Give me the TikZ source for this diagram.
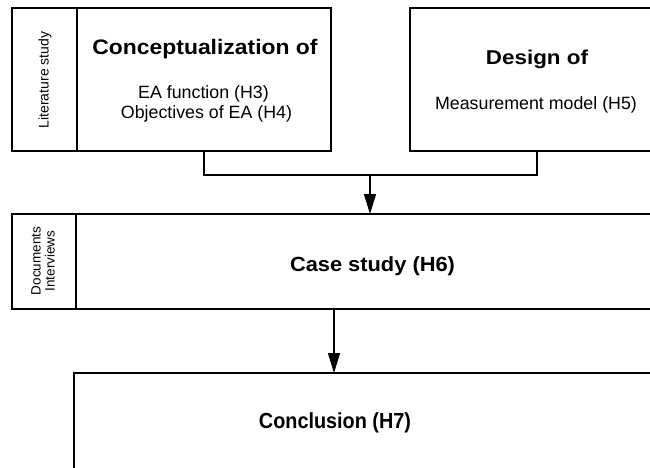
\documentclass[tikz,border=0pt]{standalone}
\usepackage{fontspec}
\setmainfont{Liberation Sans}
\usetikzlibrary{arrows.meta}
\begin{document}
\begin{tikzpicture}[x=1pt,y=-1pt,
  frame/.style={draw, line width=1.2pt, inner sep=0pt, outer sep=0pt},
  txt/.style={inner sep=0pt, anchor=base},
  head/.style={txt, font=\bfseries\fontsize{21}{24}\selectfont},
  body/.style={txt, font=\fontsize{17.8}{21}\selectfont},
  side/.style={inner sep=0pt, rotate=90, align=center, font=\fontsize{13.5}{14}\selectfont},
  link/.style={line width=1.2pt},
  arrow/.style={link, -{Triangle[length=20pt,width=12pt]}}]
\useasboundingbox (0,0) rectangle (650,468);
\clip (0,0) rectangle (650,468);

% boxes
\node[frame, minimum width=65pt, minimum height=143pt] (lit) at (44.5,79.5) {};
\node[frame, minimum width=254pt, minimum height=143pt] (concept) at (204,79.5) {};
\node[frame, minimum width=254pt, minimum height=143pt] (design) at (537,79.5) {};
\node[frame, minimum width=64pt, minimum height=95pt] (docs) at (44,261.5) {};
\node[frame, minimum width=584pt, minimum height=95pt] (case) at (368,261.5) {};
\node[frame, minimum width=590pt, minimum height=110pt] (concl) at (369,428) {};

% side labels
\node[side, font=\fontsize{14}{15}\selectfont] (litlbl) at (45,80) {Literature study};
\node[side] (docslbl) at (43,261) {Documents\\Interviews};

% box texts
\node[head] (concepthead) at (205,55) {\scalebox{1.09}[1]{Conceptualization of}};
\node[body] (concept1) at (203.5,99) {EA function (H3)};
\node[body] (concept2) at (206.5,118) {Objectives of EA (H4)};
\node[head, font=\bfseries\fontsize{20}{23}\selectfont] (designhead) at (537,64.5) {\scalebox{1.12}[1]{Design of}};
\node[body] (design1) at (536,110) {Measurement model (H5)};
\node[head, font=\bfseries\fontsize{20.5}{23}\selectfont] (casehead) at (372.5,271.7) {\scalebox{1.065}[1]{Case study (H6)}};
\node[head, font=\bfseries\fontsize{21.8}{24}\selectfont] (conclhead) at (335,428) {\scalebox{0.91}[1]{Conclusion (H7)}};

% connectors
\coordinate (join) at (370,175);
\draw[link] (concept.south) |- (join) -| (design.south);
\draw[arrow] (join) -- (join |- case.north);
\coordinate (drop) at (334,0);
\draw[arrow] (drop |- case.south) -- (drop |- concl.north);
\end{tikzpicture}
\end{document}
